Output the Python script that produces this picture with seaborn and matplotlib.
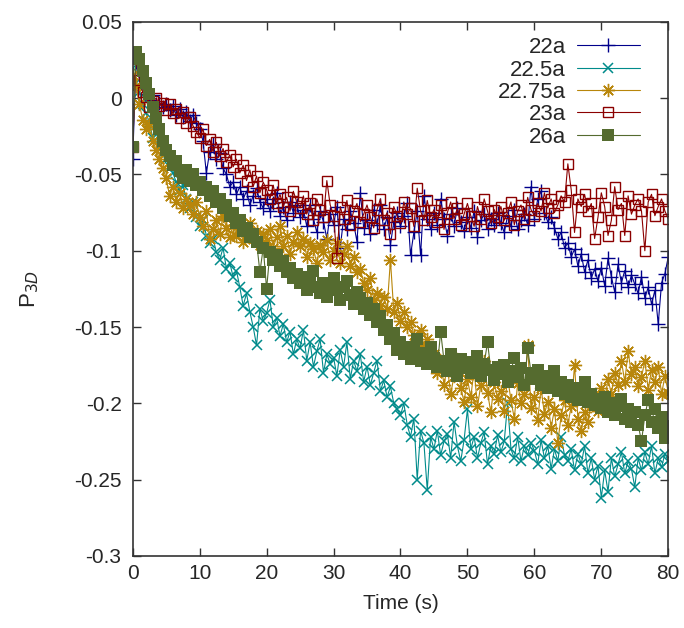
import numpy as np
import pandas as pd
import matplotlib
matplotlib.use("Agg")
import matplotlib.pyplot as plt
from matplotlib.ticker import FuncFormatter, MultipleLocator
import seaborn as sns

# sample times (s), one reading every 0.5 s
time_s = np.arange(0, 80.5, 0.5)

labels = ["22a", "22.5a", "22.75a", "23a", "26a"]

p_22a = [
    -0.040, 0.024, 0.015, 0.008, 0.003, -0.001, 0.002, -0.004, -0.003, -0.006,
    -0.004, -0.008, -0.005, -0.011, -0.007, -0.012, -0.009, -0.015, -0.011, -0.016,
    -0.020, -0.028, -0.049, -0.035, -0.030, -0.040, -0.036, -0.046, -0.050, -0.058,
    -0.055, -0.063, -0.058, -0.066, -0.061, -0.070, -0.064, -0.059, -0.068, -0.072,
    -0.066, -0.074, -0.069, -0.062, -0.077, -0.071, -0.080, -0.068, -0.075, -0.070,
    -0.078, -0.073, -0.084, -0.070, -0.079, -0.088, -0.074, -0.081, -0.092, -0.076,
    -0.083, -0.071, -0.098, -0.079, -0.086, -0.074, -0.082, -0.094, -0.062, -0.085,
    -0.080, -0.089, -0.073, -0.083, -0.070, -0.086, -0.078, -0.096, -0.081, -0.075,
    -0.084, -0.077, -0.069, -0.103, -0.088, -0.074, -0.103, -0.064, -0.079, -0.086,
    -0.075, -0.083, -0.066, -0.079, -0.090, -0.076, -0.084, -0.072, -0.081, -0.087,
    -0.078, -0.085, -0.074, -0.091, -0.080, -0.076, -0.086, -0.079, -0.083, -0.075,
    -0.082, -0.088, -0.077, -0.084, -0.073, -0.086, -0.080, -0.076, -0.083, -0.058,
    -0.079, -0.066, -0.061, -0.075, -0.081, -0.078, -0.085, -0.092, -0.088, -0.098,
    -0.095, -0.104, -0.099, -0.110, -0.102, -0.114, -0.106, -0.118, -0.112, -0.120,
    -0.111, -0.123, -0.105, -0.117, -0.127, -0.109, -0.121, -0.113, -0.124, -0.116,
    -0.122, -0.128, -0.117, -0.131, -0.124, -0.135, -0.126, -0.148, -0.121, -0.115,
    -0.104,
]

p_22_5a = [
    0.020, 0.010, 0.004, -0.004, -0.010, -0.016, -0.026, -0.022, -0.031, -0.036,
    -0.040, -0.045, -0.049, -0.055, -0.060, -0.057, -0.066, -0.072, -0.068, -0.078,
    -0.084, -0.080, -0.090, -0.095, -0.092, -0.101, -0.106, -0.098, -0.112, -0.108,
    -0.117, -0.113, -0.124, -0.136, -0.128, -0.140, -0.150, -0.162, -0.138, -0.146,
    -0.141, -0.132, -0.150, -0.144, -0.156, -0.148, -0.160, -0.153, -0.168, -0.158,
    -0.164, -0.152, -0.172, -0.160, -0.176, -0.166, -0.158, -0.180, -0.168, -0.174,
    -0.170, -0.182, -0.165, -0.176, -0.160, -0.184, -0.172, -0.179, -0.168, -0.186,
    -0.176, -0.188, -0.180, -0.172, -0.192, -0.185, -0.196, -0.189, -0.200, -0.204,
    -0.208, -0.200, -0.214, -0.222, -0.210, -0.250, -0.218, -0.226, -0.257, -0.222,
    -0.230, -0.218, -0.234, -0.225, -0.220, -0.236, -0.212, -0.228, -0.238, -0.224,
    -0.204, -0.230, -0.222, -0.236, -0.226, -0.219, -0.240, -0.228, -0.233, -0.221,
    -0.232, -0.225, -0.200, -0.230, -0.236, -0.222, -0.238, -0.228, -0.234, -0.226,
    -0.231, -0.240, -0.224, -0.236, -0.228, -0.243, -0.230, -0.238, -0.222, -0.234,
    -0.238, -0.230, -0.244, -0.233, -0.240, -0.228, -0.246, -0.236, -0.250, -0.241,
    -0.262, -0.244, -0.258, -0.236, -0.248, -0.240, -0.232, -0.246, -0.238, -0.243,
    -0.255, -0.236, -0.244, -0.232, -0.240, -0.228, -0.246, -0.236, -0.242, -0.233,
    -0.238,
]

p_22_75a = [
    0.015, 0.008, -0.004, -0.014, -0.020, -0.017, -0.028, -0.034, -0.040, -0.046,
    -0.052, -0.064, -0.058, -0.068, -0.062, -0.072, -0.066, -0.070, -0.076, -0.068,
    -0.078, -0.084, -0.074, -0.092, -0.086, -0.080, -0.089, -0.077, -0.085, -0.091,
    -0.083, -0.090, -0.086, -0.094, -0.088, -0.082, -0.092, -0.087, -0.096, -0.089,
    -0.093, -0.086, -0.098, -0.091, -0.084, -0.097, -0.090, -0.102, -0.094, -0.088,
    -0.097, -0.092, -0.104, -0.095, -0.099, -0.108, -0.096, -0.101, -0.093, -0.106,
    -0.100, -0.095, -0.108, -0.102, -0.097, -0.110, -0.104, -0.114, -0.112, -0.121,
    -0.126, -0.118, -0.132, -0.128, -0.136, -0.130, -0.138, -0.106, -0.140, -0.134,
    -0.146, -0.140, -0.150, -0.147, -0.155, -0.160, -0.152, -0.163, -0.158, -0.167,
    -0.168, -0.180, -0.172, -0.188, -0.176, -0.194, -0.182, -0.171, -0.190, -0.199,
    -0.184, -0.196, -0.178, -0.202, -0.188, -0.172, -0.193, -0.206, -0.186, -0.197,
    -0.192, -0.205, -0.183, -0.198, -0.210, -0.187, -0.200, -0.194, -0.162, -0.203,
    -0.196, -0.211, -0.190, -0.207, -0.199, -0.216, -0.204, -0.226, -0.208, -0.198,
    -0.214, -0.202, -0.175, -0.210, -0.218, -0.206, -0.212, -0.200, -0.196, -0.205,
    -0.190, -0.198, -0.184, -0.194, -0.180, -0.188, -0.172, -0.186, -0.166, -0.181,
    -0.176, -0.189, -0.183, -0.172, -0.191, -0.178, -0.186, -0.176, -0.194, -0.182,
    -0.193,
]

p_23a = [
    -0.032, 0.026, 0.012, 0.004, 0.001, -0.006, -0.002, 0.000, -0.005, -0.003,
    -0.008, -0.004, -0.010, -0.007, -0.013, -0.009, -0.016, -0.012, -0.018, -0.022,
    -0.026, -0.020, -0.031, -0.027, -0.035, -0.029, -0.038, -0.033, -0.042, -0.037,
    -0.045, -0.040, -0.049, -0.044, -0.054, -0.047, -0.058, -0.051, -0.062, -0.055,
    -0.060, -0.066, -0.057, -0.069, -0.063, -0.071, -0.065, -0.074, -0.061, -0.068,
    -0.072, -0.064, -0.076, -0.069, -0.080, -0.066, -0.073, -0.078, -0.054, -0.070,
    -0.077, -0.105, -0.071, -0.079, -0.067, -0.083, -0.074, -0.069, -0.081, -0.076,
    -0.070, -0.078, -0.085, -0.073, -0.066, -0.080, -0.075, -0.089, -0.071, -0.077,
    -0.082, -0.068, -0.076, -0.072, -0.084, -0.059, -0.074, -0.080, -0.067, -0.078,
    -0.073, -0.081, -0.070, -0.086, -0.075, -0.068, -0.079, -0.072, -0.083, -0.076,
    -0.069, -0.077, -0.084, -0.071, -0.079, -0.066, -0.074, -0.082, -0.073, -0.078,
    -0.071, -0.080, -0.075, -0.068, -0.083, -0.074, -0.070, -0.079, -0.065, -0.073,
    -0.077, -0.069, -0.074, -0.062, -0.072, -0.066, -0.075, -0.070, -0.064, -0.068,
    -0.043, -0.060, -0.088, -0.066, -0.071, -0.063, -0.074, -0.069, -0.092, -0.078,
    -0.062, -0.071, -0.090, -0.080, -0.058, -0.073, -0.069, -0.090, -0.064, -0.076,
    -0.070, -0.066, -0.074, -0.100, -0.068, -0.063, -0.077, -0.071, -0.066, -0.074,
    -0.079,
]

p_26a = [
    -0.032, 0.030, 0.026, 0.018, 0.010, 0.003, -0.006, -0.013, -0.020, -0.028,
    -0.034, -0.038, -0.044, -0.041, -0.048, -0.052, -0.047, -0.054, -0.050, -0.057,
    -0.055, -0.060, -0.058, -0.064, -0.061, -0.068, -0.066, -0.072, -0.070, -0.077,
    -0.075, -0.082, -0.080, -0.087, -0.085, -0.091, -0.089, -0.094, -0.114, -0.098,
    -0.125, -0.101, -0.106, -0.103, -0.110, -0.107, -0.114, -0.111, -0.118, -0.115,
    -0.121, -0.117, -0.126, -0.119, -0.113, -0.124, -0.128, -0.121, -0.130, -0.123,
    -0.118, -0.126, -0.132, -0.124, -0.120, -0.129, -0.135, -0.127, -0.131, -0.138,
    -0.134, -0.142, -0.138, -0.147, -0.143, -0.152, -0.149, -0.158, -0.154, -0.165,
    -0.160, -0.168, -0.163, -0.171, -0.166, -0.158, -0.172, -0.167, -0.174, -0.163,
    -0.170, -0.176, -0.153, -0.172, -0.179, -0.168, -0.175, -0.182, -0.171, -0.177,
    -0.173, -0.180, -0.176, -0.169, -0.182, -0.174, -0.160, -0.178, -0.185, -0.176,
    -0.181, -0.175, -0.186, -0.179, -0.170, -0.183, -0.177, -0.188, -0.164, -0.180,
    -0.184, -0.178, -0.188, -0.182, -0.190, -0.185, -0.179, -0.192, -0.186, -0.194,
    -0.188, -0.196, -0.190, -0.198, -0.192, -0.186, -0.199, -0.194, -0.201, -0.197,
    -0.203, -0.196, -0.206, -0.200, -0.208, -0.202, -0.197, -0.210, -0.204, -0.212,
    -0.206, -0.214, -0.225, -0.208, -0.198, -0.212, -0.204, -0.216, -0.209, -0.223,
    -0.215,
]

colors = ["#00008b", "#008b8b", "#b8860b", "#8b0000", "#556b2f"]

sns.set_style("ticks")
plt.rcParams["font.family"] = ["Liberation Sans", "DejaVu Sans"]

df = pd.concat([
    pd.DataFrame({"time": time_s, "P": vals, "sample": lab})
    for lab, vals in zip(labels, [p_22a, p_22_5a, p_22_75a, p_23a, p_26a])
])

fig = plt.figure(figsize=(6.84, 6.28), dpi=100)
ax = fig.add_axes([0.194, 0.115, 0.783, 0.85])

marker_kw = {
    "22a": dict(marker="+", markersize=10, markeredgewidth=1.0),
    "22.5a": dict(marker="x", markersize=7, markeredgewidth=1.1),
    "22.75a": dict(marker=(8, 2, 0), markersize=9.5, markeredgewidth=1.0),
    "23a": dict(marker="s", markersize=7.5, markerfacecolor="none", markeredgewidth=1.0),
    "26a": dict(marker="s", markersize=8, markeredgewidth=0),
}

for lab, col in zip(labels, colors):
    sub = df[df["sample"] == lab]
    sns.lineplot(data=sub, x="time", y="P", color=col, lw=0.8, label=lab,
                 markeredgecolor=col, ax=ax, **marker_kw[lab])

ax.set_xlim(0, 80)
ax.set_ylim(-0.3, 0.05)
ax.xaxis.set_major_locator(MultipleLocator(10))
ax.yaxis.set_major_locator(MultipleLocator(0.05))
ax.yaxis.set_major_formatter(FuncFormatter(lambda v, p: "0" if abs(v) < 1e-9 else f"{round(v, 3):g}"))
ax.tick_params(direction="in", top=True, right=True, length=6, width=1,
               labelsize=15, color="#333333")
ax.tick_params(axis="y", pad=8)
ax.tick_params(axis="x", pad=6)
for sp in ax.spines.values():
    sp.set_linewidth(1.2)
    sp.set_color("#333333")

ax.set_xlabel("Time (s)", fontsize=15, labelpad=8)
ax.set_ylabel("P$_{3D}$", fontsize=16, labelpad=24)

leg = ax.legend(loc="upper right", bbox_to_anchor=(0.964, 0.988), frameon=False,
                markerfirst=False, fontsize=16, handlelength=2.85, labelspacing=0.06,
                borderaxespad=0, handletextpad=0.5)

# right-align the legend labels against the sample lines, gnuplot style
fig.canvas.draw()
texts = leg.get_texts()
boxes = [t.get_window_extent() for t in texts]
right = max(b.x1 for b in boxes)
W, H = fig.get_size_inches() * fig.dpi
for t in texts:
    x0, y0 = t.get_transform().transform(t.get_position())
    fig.text(right / W, y0 / H, t.get_text(), ha="right", va="baseline",
             fontsize=16)
    t.set_alpha(0)

fig.savefig("out.png", dpi=100)
